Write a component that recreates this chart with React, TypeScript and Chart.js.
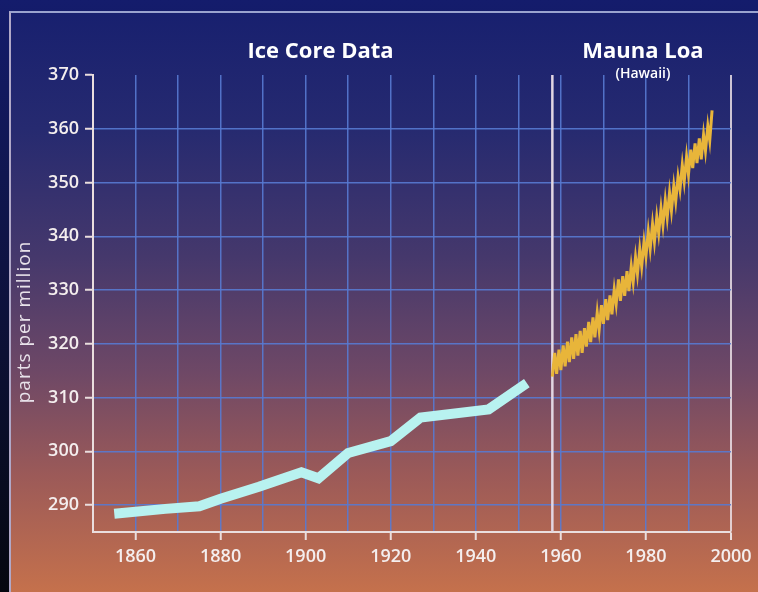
import React, { useEffect, useRef } from "react";
import { Chart, registerables } from "chart.js";

Chart.register(...registerables);

// Ice core record (year, ppm)
const iceYears = [1855, 1867, 1875, 1880, 1889, 1899, 1903, 1910, 1920, 1927, 1943, 1952];
const icePpm = [288.4, 289.3, 289.8, 291.2, 293.4, 296.1, 295.0, 299.7, 301.9, 306.3, 307.8, 312.7];

// Mauna Loa record: yearly seasonal trough and peak (ppm)
const mlYears = [
  1958, 1959, 1960, 1961, 1962, 1963, 1964, 1965, 1966, 1967, 1968, 1969, 1970,
  1971, 1972, 1973, 1974, 1975, 1976, 1977, 1978, 1979, 1980, 1981, 1982, 1983,
  1984, 1985, 1986, 1987, 1988, 1989, 1990, 1991, 1992, 1993, 1994, 1995,
];
const mlTrough = [
  313.9, 314.4, 315.1, 315.8, 316.6, 317.2, 317.8, 318.3, 319.5, 320.3, 321.2, 322.6, 323.7,
  324.4, 325.5, 327.4, 328.0, 328.9, 329.8, 331.5, 333.0, 334.4, 336.3, 337.7, 339.0, 340.6,
  342.1, 343.5, 344.8, 346.5, 348.7, 350.2, 351.5, 352.7, 353.6, 354.3, 355.9, 357.8,
];
const mlPeak = [
  318.3, 318.9, 319.7, 320.4, 321.2, 321.8, 322.4, 322.9, 324.1, 324.9, 325.8, 327.2, 328.3,
  329.0, 330.1, 332.0, 332.6, 333.5, 334.4, 336.1, 337.6, 339.0, 340.9, 342.3, 343.6, 345.2,
  346.7, 348.1, 349.4, 351.1, 353.3, 354.8, 356.1, 357.3, 358.2, 358.9, 360.5, 363.4,
];
const mlPeakOffset = 0.55; // fraction of year at which the seasonal peak falls

// Axes
const xTicks = [1860, 1870, 1880, 1890, 1900, 1910, 1920, 1930, 1940, 1950, 1960, 1970, 1980, 1990, 2000];
const yTicks = [290, 300, 310, 320, 330, 340, 350, 360, 370];
const xMin = 1850;
const xMax = 2000;
const yMin = 285;
const yMax = 370;
const dividerYear = 1958;

const FONT = "'Open Sans', 'Liberation Sans', sans-serif";
const GRID_BLUE = "rgba(88,122,210,0.9)";
const AXIS_WHITE = "#eadede";

const textPlugin = {
  id: "textPlugin",
  beforeDatasetsDraw(chart: any) {
    const { ctx, chartArea, scales } = chart;
    const xs = scales.x;
    const xd = xs.getPixelForValue(dividerYear);
    ctx.save();
    ctx.strokeStyle = "#e2d6e2";
    ctx.lineWidth = 2.5;
    ctx.beginPath();
    ctx.moveTo(xd, chartArea.top);
    ctx.lineTo(xd, chartArea.bottom);
    ctx.stroke();
    ctx.restore();
  },
  afterDraw(chart: any) {
    const { ctx, scales } = chart;
    const xs = scales.x;
    ctx.save();
    ctx.fillStyle = "#ffffff";
    ctx.textAlign = "center";
    ctx.textBaseline = "middle";
    ctx.font = `700 22px ${FONT}`;
    ctx.fillText("Ice Core Data", xs.getPixelForValue(1903.5), 52);
    ctx.fillText("Mauna Loa", xs.getPixelForValue(1979.3), 52);
    ctx.font = `600 14px ${FONT}`;
    ctx.fillText("(Hawaii)", xs.getPixelForValue(1979.3), 74);
    ctx.translate(25, 322);
    ctx.rotate(-Math.PI / 2);
    ctx.fillStyle = "#e8e2ea";
    ctx.font = `400 19px ${FONT}`;
    try {
      (ctx as any).letterSpacing = "1px";
    } catch (e) {}
    ctx.fillText("parts per million", 0, 0);
    ctx.restore();
  },
};

export default function App() {
  const ref = useRef<HTMLCanvasElement | null>(null);

  useEffect(() => {
    document.body.style.margin = "0";
    const canvas = ref.current;
    if (!canvas) return;

    const icePoints = iceYears.map((x, i) => ({ x, y: icePpm[i] }));
    const mlPoints: { x: number; y: number }[] = [];
    mlYears.forEach((yr, i) => {
      mlPoints.push({ x: yr, y: mlTrough[i] });
      mlPoints.push({ x: yr + mlPeakOffset, y: mlPeak[i] });
    });

    const chart = new Chart(canvas, {
      type: "line",
      data: {
        datasets: [
          {
            label: "Ice Core Data",
            data: icePoints,
            borderColor: "#b8f2f0",
            borderWidth: 10,
            pointRadius: 0,
            tension: 0,
            borderCapStyle: "butt",
            borderJoinStyle: "miter",
          },
          {
            label: "Mauna Loa",
            data: mlPoints,
            borderColor: "#e8b53a",
            borderWidth: 3,
            pointRadius: 0,
            tension: 0,
          },
        ],
      },
      options: {
        animation: false,
        responsive: false,
        maintainAspectRatio: false,
        layout: { padding: { left: 0, top: 75, right: 27, bottom: 0 } },
        plugins: {
          legend: { display: false },
          tooltip: { enabled: false },
          title: { display: false },
        },
        scales: {
          x: {
            type: "linear",
            min: xMin,
            max: xMax,
            afterBuildTicks: (s: any) => {
              s.ticks = xTicks.map((v) => ({ value: v }));
            },
            afterFit: (s: any) => {
              s.height = 60;
            },
            ticks: {
              autoSkip: false,
              maxRotation: 0,
              padding: 6,
              color: "#f4eeee",
              font: { family: FONT, size: 18, weight: "600" },
              callback: (v: any) => (Number(v) % 20 === 0 ? String(v) : ""),
            },
            grid: {
              color: (c: any) =>
                c.tick && c.tick.value === 2000 ? "rgba(235,225,230,0.85)" : GRID_BLUE,
              lineWidth: (c: any) => (c.tick && c.tick.value === 2000 ? 2 : 1.5),
              tickColor: (c: any) =>
                c.tick && c.tick.value % 20 === 0 ? AXIS_WHITE : "rgba(0,0,0,0)",
              tickLength: 8,
              tickWidth: 2,
            },
            border: { color: AXIS_WHITE, width: 2 },
          },
          y: {
            type: "linear",
            min: yMin,
            max: yMax,
            afterBuildTicks: (s: any) => {
              s.ticks = yTicks.map((v) => ({ value: v }));
            },
            afterFit: (s: any) => {
              s.width = 93;
            },
            ticks: {
              padding: 6,
              color: "#f4eeee",
              font: { family: FONT, size: 18, weight: "600" },
            },
            grid: {
              color: (c: any) =>
                c.tick && c.tick.value === 370 ? "rgba(0,0,0,0)" : GRID_BLUE,
              lineWidth: 1.5,
              tickColor: AXIS_WHITE,
              tickLength: 8,
              tickWidth: 2,
            },
            border: { color: AXIS_WHITE, width: 2 },
          },
        },
      },
      plugins: [textPlugin],
    });

    return () => chart.destroy();
  }, []);

  return (
    <div
      style={{
        position: "relative",
        width: 758,
        height: 592,
        overflow: "hidden",
        background: "linear-gradient(180deg, #141c6c 0%, #0c1034 60%, #05070f 100%)",
      }}
    >
      <div
        style={{
          position: "absolute",
          left: 9,
          top: 11,
          right: 0,
          bottom: 0,
          borderTop: "2px solid #9aa3cf",
          borderLeft: "2px solid #b0a8c8",
          background:
            "linear-gradient(180deg, #18206f 0%, #262a70 20%, #45386c 42%, #6e4866 62%, #9c5a58 80%, #c5714c 100%)",
        }}
      />
      <canvas
        ref={ref}
        width={758}
        height={592}
        style={{ position: "absolute", left: 0, top: 0, width: 758, height: 592 }}
      />
    </div>
  );
}
